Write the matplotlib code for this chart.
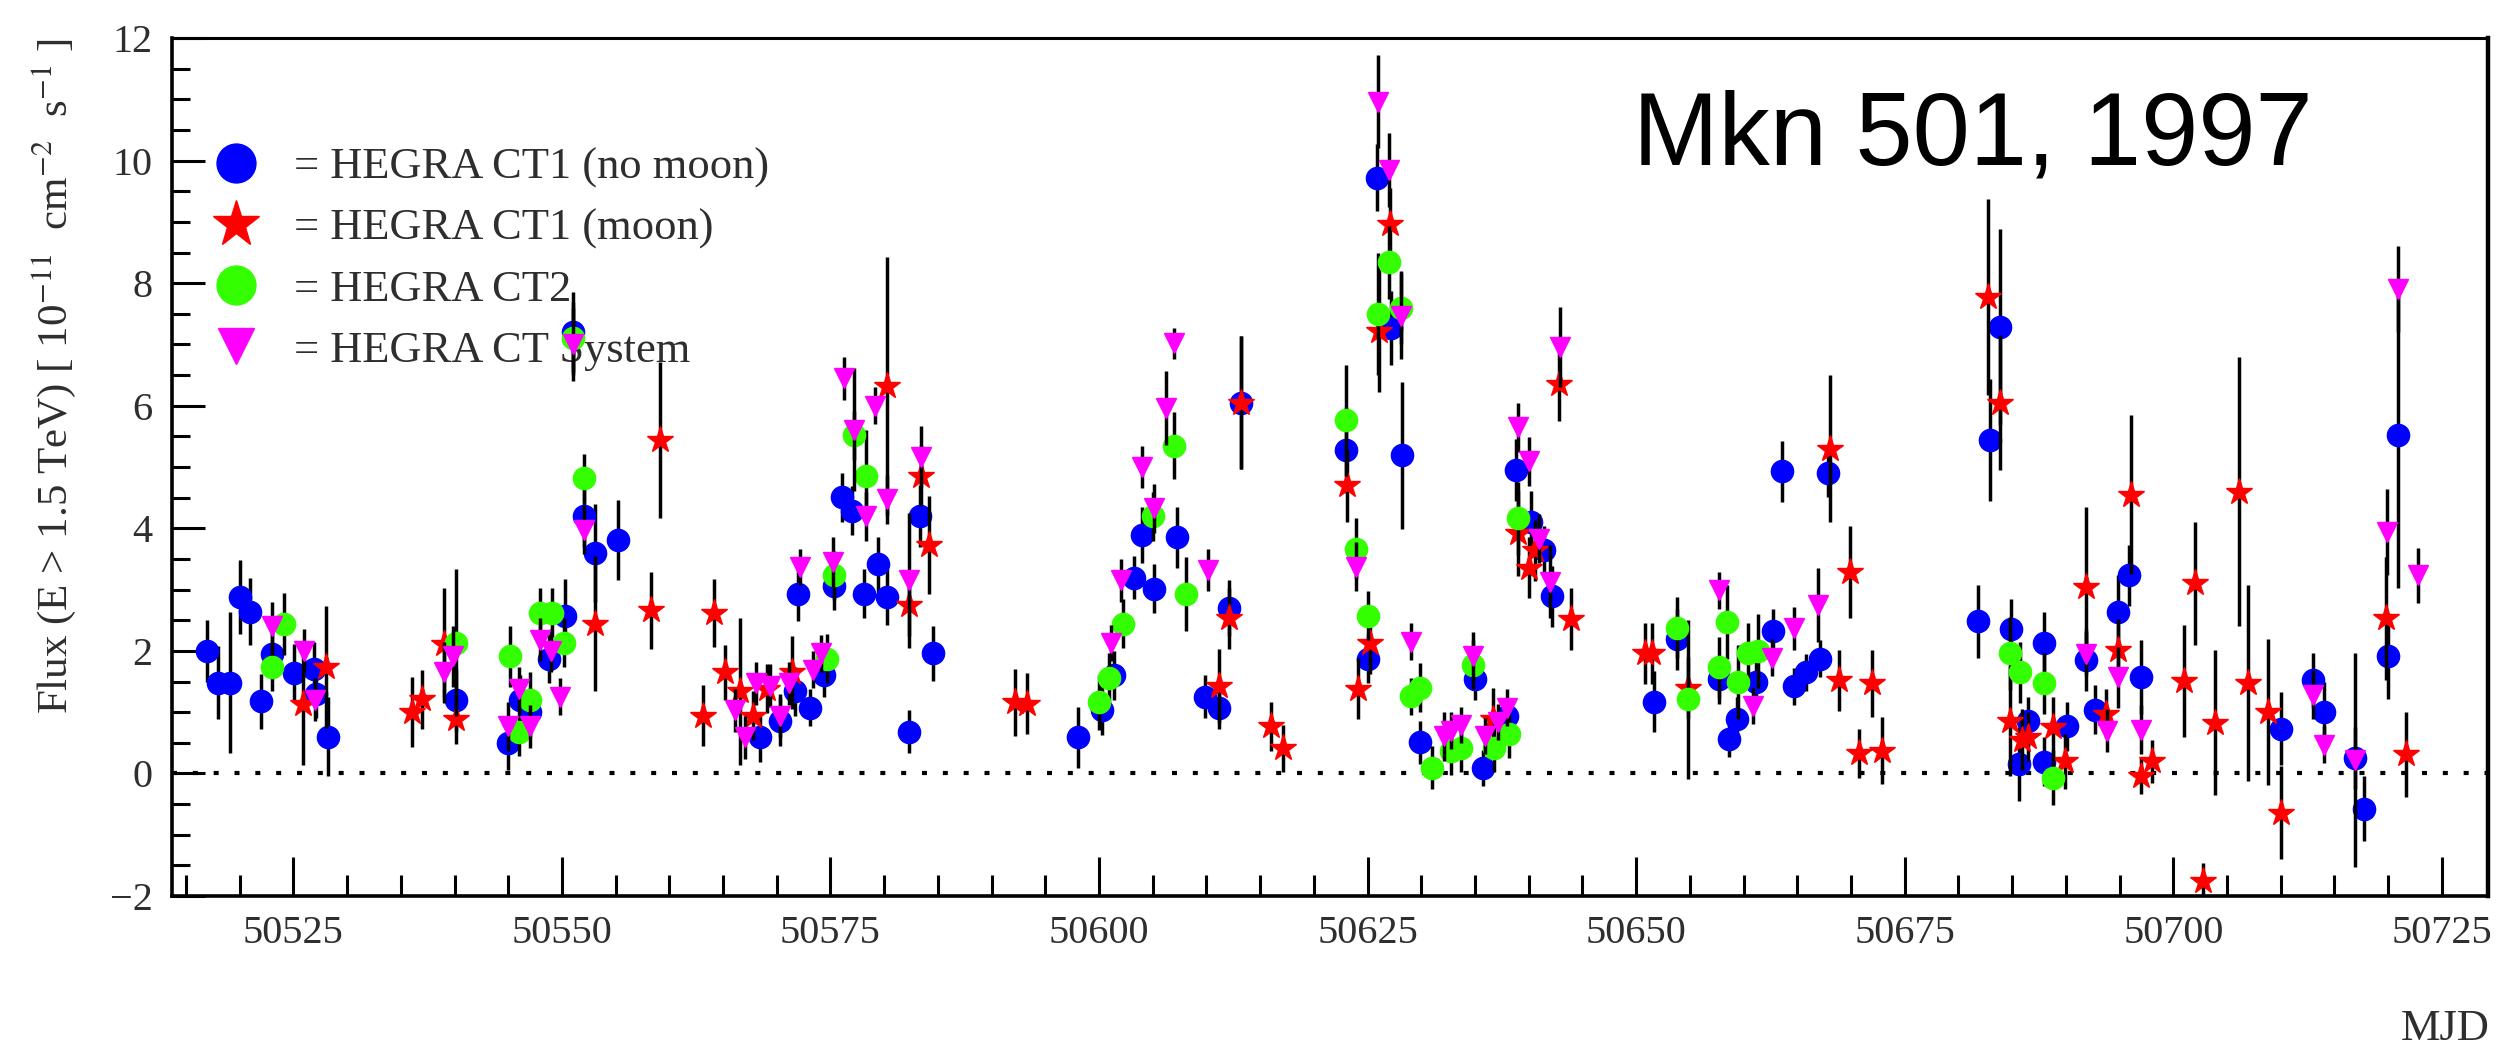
import matplotlib
matplotlib.use("Agg")
import matplotlib.pyplot as plt
from matplotlib.lines import Line2D
from matplotlib.ticker import MultipleLocator

# ---------------- data ----------------
# HEGRA CT1 (no moon)
ct1_x = [50517.0, 50518.0, 50519.1, 50520.0, 50521.0, 50522.0, 50523.0, 50525.1, 50526.9, 50527.1,
         50528.2, 50540.1, 50545.0, 50546.1, 50547.0, 50548.8, 50550.3, 50551.0, 50552.1, 50553.1,
         50555.2, 50568.4, 50570.3, 50571.7, 50572.0, 50573.1, 50574.4, 50575.3, 50576.1, 50577.0,
         50578.1, 50579.4, 50580.3, 50582.3, 50583.3, 50584.5, 50598.0, 50600.3, 50601.4, 50603.3,
         50604.0, 50605.1, 50607.3, 50609.9, 50611.2, 50612.1, 50613.2, 50623.0, 50625.0, 50625.9,
         50627.2, 50628.2, 50629.9, 50635.0, 50635.7, 50638.0, 50638.8, 50640.2, 50641.4, 50642.2,
         50651.7, 50653.8, 50657.7, 50658.6, 50659.4, 50661.2, 50662.7, 50663.6, 50664.7, 50665.8,
         50667.1, 50667.9, 50681.8, 50682.9, 50683.9, 50684.9, 50685.6, 50686.5, 50688.0, 50688.0,
         50690.1, 50691.9, 50692.7, 50694.9, 50695.9, 50697.0, 50710.0, 50713.0, 50714.0, 50716.9,
         50717.8, 50720.0, 50720.9]
ct1_y = [2.0, 1.48, 1.48, 2.88, 2.64, 1.18, 1.95, 1.64, 1.7, 1.3,
         0.6, 1.2, 0.5, 1.2, 1.0, 1.87, 2.57, 7.2, 4.2, 3.6,
         3.81, 0.59, 0.85, 1.34, 2.93, 1.07, 1.6, 3.06, 4.51, 4.29,
         2.93, 3.41, 2.88, 0.68, 4.2, 1.96, 0.59, 1.03, 1.6, 3.19,
         3.89, 3.01, 3.85, 1.25, 1.07, 2.7, 6.05, 5.28, 1.87, 9.72,
         7.27, 5.19, 0.51, 1.54, 0.09, 0.93, 4.95, 4.11, 3.64, 2.89,
         1.17, 2.19, 1.54, 0.56, 0.89, 1.49, 2.33, 4.93, 1.42, 1.65,
         1.87, 4.91, 2.48, 5.44, 7.29, 2.35, 0.15, 0.85, 2.13, 0.19,
         0.77, 1.85, 1.04, 2.64, 3.23, 1.57, 0.73, 1.52, 1.0, 0.25,
         -0.58, 1.92, 5.52]
ct1_err = [0.5, 0.6, 1.15, 0.6, 0.55, 0.45, 0.4, 0.47, 0.45, 0.4,
           0.65, 0.5, 0.45, 0.4, 0.4, 0.4, 0.6, 0.65, 0.5, 0.8,
           0.65, 0.4, 0.4, 0.4, 0.45, 0.3, 0.35, 0.4, 0.4, 0.4,
           0.4, 0.45, 0.45, 0.35, 0.5, 0.45, 0.5, 0.4, 0.4, 0.35,
           0.45, 0.4, 0.5, 0.35, 0.35, 0.45, 1.08, 0.7, 0.4, 0.55,
           0.6, 1.2, 0.35, 0.35, 0.3, 0.3, 0.5, 0.5, 0.4, 0.5,
           0.5, 0.5, 0.4, 0.3, 0.35, 0.4, 0.35, 0.5, 0.3, 0.3,
           0.3, 0.4, 0.6, 1.0, 1.6, 0.5, 0.6, 0.4, 0.5, 0.4,
           0.4, 0.5, 0.4, 0.6, 0.5, 0.6, 0.6, 0.45, 0.5, 0.5,
           0.53, 0.7, 2.5]

# HEGRA CT1 (moon)
moon_x = [50525.9, 50528.0, 50536.0, 50537.0, 50539.0, 50540.1, 50553.1, 50558.3, 50559.1, 50563.1,
          50564.2, 50565.2, 50566.6, 50567.8, 50569.1, 50571.4, 50580.3, 50582.3, 50583.4, 50584.2,
          50592.2, 50593.3, 50611.2, 50612.1, 50613.2, 50616.0, 50617.1, 50623.1, 50624.1, 50625.2,
          50626.1, 50627.1, 50636.7, 50639.0, 50640.0, 50640.6, 50642.8, 50643.9, 50650.8, 50651.5,
          50654.8, 50668.0, 50668.9, 50669.9, 50670.7, 50672.0, 50672.9, 50682.8, 50683.9, 50684.8,
          50685.9, 50686.5, 50688.8, 50689.9, 50691.9, 50693.7, 50694.9, 50696.1, 50697.0, 50698.0,
          50701.0, 50702.0, 50702.8, 50703.9, 50706.1, 50707.0, 50708.8, 50710.0, 50719.8, 50721.7]
moon_y = [1.14, 1.74, 1.0, 1.21, 2.12, 0.88, 2.44, 2.66, 5.44, 0.94,
          2.62, 1.65, 1.34, 0.94, 1.38, 1.65, 6.32, 2.75, 4.86, 3.72,
          1.16, 1.14, 1.43, 2.53, 6.05, 0.77, 0.41, 4.7, 1.38, 2.13,
          7.22, 8.96, 0.89, 3.92, 3.36, 3.64, 6.35, 2.52, 1.96, 1.96,
          1.4, 5.3, 1.52, 3.28, 0.33, 1.47, 0.37, 7.77, 6.05, 0.85,
          0.55, 0.6, 0.75, 0.2, 3.04, 0.97, 2.02, 4.55, -0.04, 0.2,
          1.51, 3.1, -1.76, 0.83, 4.6, 1.47, 1.0, -0.64, 2.53, 0.31]
moon_err = [1.0, 1.0, 0.57, 0.48, 0.9, 0.4, 1.1, 0.63, 1.27, 0.5,
            0.55, 0.45, 1.2, 0.4, 0.4, 0.6, 2.1, 0.5, 0.5, 0.8,
            0.55, 0.5, 0.6, 0.5, 1.08, 0.4, 0.38, 0.6, 0.5, 0.5,
            1.0, 0.6, 0.5, 0.7, 0.5, 0.5, 0.6, 0.5, 0.5, 0.5,
            0.5, 1.2, 0.5, 0.75, 0.4, 0.55, 0.55, 1.6, 1.1, 0.9,
            0.5, 0.4, 0.5, 0.45, 1.3, 0.4, 0.5, 1.3, 0.3, 0.35,
            0.92, 1.0, 0.3, 1.18, 2.2, 1.6, 1.19, 0.76, 1.0, 0.7]

# HEGRA CT2
ct2_x = [50523.0, 50524.1, 50540.1, 50545.2, 50546.0, 50547.0, 50548.0, 50549.1, 50550.2, 50551.0,
         50552.1, 50574.7, 50575.3, 50577.2, 50578.3, 50600.0, 50600.9, 50602.2, 50605.0, 50607.0,
         50608.1, 50623.0, 50623.9, 50625.0, 50626.0, 50627.0, 50628.1, 50629.0, 50629.9, 50631.0,
         50632.8, 50633.7, 50634.8, 50636.8, 50638.2, 50639.0, 50653.8, 50654.8, 50657.7, 50658.5,
         50659.5, 50660.4, 50661.3, 50684.8, 50685.7, 50688.0, 50688.8]
ct2_y = [1.74, 2.44, 2.13, 1.91, 0.68, 1.2, 2.62, 2.62, 2.13, 7.1,
         4.82, 1.87, 3.23, 5.52, 4.86, 1.16, 1.56, 2.44, 4.2, 5.35,
         2.93, 5.76, 3.67, 2.57, 7.5, 8.34, 7.6, 1.26, 1.4, 0.09,
         0.37, 0.42, 1.77, 0.42, 0.65, 4.16, 2.38, 1.21, 1.73, 2.47,
         1.49, 1.96, 2.0, 1.96, 1.65, 1.47, -0.07]
ct2_err = [0.4, 0.5, 1.2, 0.5, 0.4, 0.45, 0.4, 0.4, 0.4, 0.6,
           0.4, 0.4, 0.4, 0.4, 0.75, 0.45, 0.4, 0.4, 0.4, 0.55,
           0.6, 0.9, 0.5, 0.4, 1.0, 0.6, 0.6, 0.3, 0.4, 0.35,
           0.4, 0.4, 0.4, 0.4, 0.4, 0.6, 0.5, 1.3, 0.5, 0.6,
           0.6, 0.5, 0.6, 0.6, 0.5, 0.5, 0.45]

# HEGRA CT System
sys_x = [50523.0, 50526.0, 50527.0, 50539.0, 50539.9, 50545.0, 50546.0, 50547.0, 50548.0, 50549.0,
         50549.8, 50551.0, 50552.1, 50566.1, 50567.0, 50568.1, 50569.4, 50570.3, 50571.1, 50572.2,
         50573.4, 50574.1, 50575.2, 50576.3, 50577.2, 50578.3, 50579.1, 50580.3, 50582.3, 50583.4,
         50601.1, 50602.0, 50604.0, 50605.1, 50606.2, 50607.0, 50610.1, 50623.9, 50626.0, 50627.0,
         50628.1, 50629.0, 50632.1, 50632.8, 50633.7, 50634.8, 50635.9, 50637.1, 50638.0, 50639.0,
         50640.0, 50641.0, 50642.0, 50642.9, 50657.7, 50660.9, 50662.6, 50664.7, 50666.9, 50691.9,
         50693.8, 50694.9, 50697.0, 50713.0, 50714.0, 50716.9, 50719.9, 50720.9, 50722.8]
sys_y = [2.4, 2.0, 1.2, 1.65, 1.91, 0.77, 1.38, 0.77, 2.18, 2.0,
         1.25, 7.0, 3.98, 1.03, 0.59, 1.47, 1.43, 0.94, 1.47, 3.37,
         1.69, 1.96, 3.45, 6.45, 5.61, 4.2, 6.0, 4.47, 3.15, 5.17,
         2.13, 3.15, 5.0, 4.33, 5.96, 7.02, 3.32, 3.37, 10.96, 9.85,
         7.47, 2.15, 0.61, 0.7, 0.79, 1.91, 0.61, 0.84, 1.07, 5.65,
         5.09, 3.83, 3.13, 6.96, 2.99, 1.1, 1.89, 2.37, 2.75, 1.95,
         0.7, 1.57, 0.71, 1.28, 0.47, 0.22, 3.94, 7.9, 3.23]
sys_err = [0.4, 0.35, 0.35, 0.5, 0.5, 0.4, 0.35, 0.35, 0.35, 0.35,
           0.3, 0.6, 0.4, 0.35, 0.35, 0.35, 0.35, 0.35, 0.35, 0.3,
           0.3, 0.3, 0.4, 0.35, 1.0, 0.4, 0.3, 0.4, 1.1, 0.5,
           0.3, 0.35, 0.35, 0.4, 0.6, 0.25, 0.35, 0.4, 0.76, 0.6,
           0.7, 0.3, 0.4, 0.3, 0.3, 0.4, 0.3, 0.3, 0.3, 0.4,
           0.4, 0.4, 0.6, 0.65, 0.3, 0.3, 0.3, 0.35, 0.6, 0.35,
           0.35, 0.5, 0.4, 0.4, 0.3, 1.75, 0.7, 0.7, 0.45]

labels = ["= HEGRA CT1 (no moon)", "= HEGRA CT1 (moon)", "= HEGRA CT2", "= HEGRA CT System"]
title_text = "Mkn 501, 1997"
x_label = "MJD"
y_label = r"Flux (E > 1.5 TeV) [ 10$^{-11}$  cm$^{-2}$  s$^{-1}$ ]"

# ---------------- styling ----------------
plt.rcParams["font.family"] = ["Liberation Serif", "DejaVu Serif"]
plt.rcParams["mathtext.fontset"] = "stix"
txt_gray = "#2e2e2e"

W, H = 2517, 1054
fig = plt.figure(figsize=(W / 100, H / 100), dpi=100)
ax = fig.add_axes([172 / W, 1 - 896 / H, (2488 - 172) / W, (896 - 38) / H])

ax.set_xlim(50513.7, 50729.3)
ax.set_ylim(-2, 12)

ax.axhline(0, color="black", lw=3.0, linestyle=(0, (1.2, 3.8)), zorder=1)

series = [
    (ct1_x, ct1_y, ct1_err, "o", "#0000ff", 16),
    (moon_x, moon_y, moon_err, "*", "#ff0000", 20),
    (ct2_x, ct2_y, ct2_err, "o", "#33ff00", 16),
    (sys_x, sys_y, sys_err, "v", "#ff00ff", 15),
]
handles = []
for i, (x, y, e, m, c, ms) in enumerate(series):
    ax.errorbar(x, y, yerr=e, fmt=m, color=c, mec=c, mfc=c, ms=ms,
                ecolor="black", elinewidth=2.5, capsize=0, zorder=3 + i)
    handles.append(Line2D([], [], marker=m, color=c, mec=c, mfc=c,
                          linestyle="none", ms=ms * 1.75))

leg = ax.legend(handles, labels, loc="upper left", bbox_to_anchor=(0.0180, 0.873),
                frameon=False, fontsize=32, handlelength=1.0, handletextpad=0.8,
                labelspacing=0.47, borderpad=0, borderaxespad=0)
leg.set_zorder(2)
for t in leg.get_texts():
    t.set_color(txt_gray)

ax.text(0.631, 0.852, title_text, transform=ax.transAxes, ha="left", va="baseline",
        fontsize=74, family="Liberation Sans", color="black")

# ticks
ax.xaxis.set_major_locator(MultipleLocator(25))
ax.xaxis.set_minor_locator(MultipleLocator(5))
ax.yaxis.set_major_locator(MultipleLocator(2))
ax.yaxis.set_minor_locator(MultipleLocator(0.5))
ax.tick_params(axis="x", which="major", direction="in", length=28, width=2.2,
               labelsize=29, pad=14, labelcolor=txt_gray, top=False)
ax.tick_params(axis="x", which="minor", direction="in", length=15, width=2.2, top=False)
ax.tick_params(axis="y", which="major", direction="in", length=24, width=2.2,
               labelsize=29, pad=14, labelcolor=txt_gray, right=False)
ax.tick_params(axis="y", which="minor", direction="in", length=13, width=2.2, right=False)
ax.ticklabel_format(axis="x", useOffset=False, style="plain")

for side, lw in (("left", 2.6), ("bottom", 2.6), ("top", 2.2), ("right", 3.2)):
    ax.spines[side].set_linewidth(lw)

fig.text(2490 / W, 1 - 1029 / H, x_label, ha="right", va="center", fontsize=32, color=txt_gray)
fig.text(54 / W, 1 - 38 / H, y_label, rotation=90, ha="center", va="top", fontsize=31,
         color=txt_gray)

fig.savefig("out.png", dpi=100)
